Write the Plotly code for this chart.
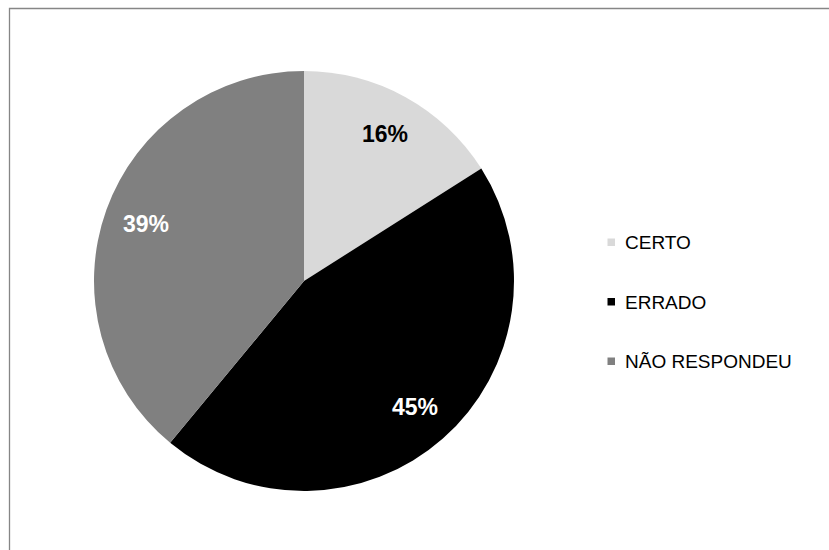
import math
import plotly.graph_objects as go

categories = ["CERTO", "ERRADO", "NÃO RESPONDEU"]
values = [16, 45, 39]
colors = ["#d9d9d9", "#000000", "#808080"]
label_colors = ["#000000", "#ffffff", "#ffffff"]

W, H = 829, 550
cx, cy, R = 304, 281, 210

fig = go.Figure()
fig.add_trace(go.Pie(
    labels=categories, values=values, sort=False, direction="clockwise", rotation=0,
    marker=dict(colors=colors, line=dict(width=0)),
    textinfo="none", hoverinfo="label+percent", showlegend=False,
    domain=dict(x=[(cx - R) / W, (cx + R) / W], y=[1 - (cy + R) / H, 1 - (cy - R) / H]),
))

total = sum(values)
cum = 0
annotations = []
for cat, v, lc in zip(categories, values, label_colors):
    mid = (cum + v / 2) / total * 2 * math.pi
    cum += v
    r = 0.80 * R
    px = cx + r * math.sin(mid)
    py = cy - r * math.cos(mid)
    annotations.append(dict(
        x=px / W, y=1 - py / H, xref="paper", yref="paper", showarrow=False,
        text=f"<b>{round(v / total * 100)}%</b>",
        font=dict(family="Liberation Sans, Arial", size=23, color=lc),
        xanchor="center", yanchor="middle",
    ))

shapes = [dict(type="rect", xref="paper", yref="paper",
               x0=9.5 / W, x1=1.2, y0=-0.2, y1=1 - 8.5 / H,
               line=dict(color="#868686", width=1.3), fillcolor="rgba(0,0,0,0)", layer="below")]

leg_y0 = 242.5
for i, (cat, col) in enumerate(zip(categories, colors)):
    yy = leg_y0 + i * 59.5
    shapes.append(dict(type="rect", xref="paper", yref="paper",
                       x0=607.5 / W, x1=615 / W, y0=1 - (yy + 3.5) / H, y1=1 - (yy - 4) / H,
                       line=dict(width=0), fillcolor=col))
    annotations.append(dict(
        x=623 / W, y=1 - yy / H, xref="paper", yref="paper", showarrow=False,
        text=cat, font=dict(family="Liberation Sans, Arial", size=19, color="#000000"),
        xanchor="left", yanchor="middle",
    ))

fig.update_layout(
    width=W, height=H, margin=dict(l=0, r=0, t=0, b=0),
    paper_bgcolor="#ffffff", plot_bgcolor="#ffffff",
    annotations=annotations, shapes=shapes,
)
fig.write_html("out.html")
